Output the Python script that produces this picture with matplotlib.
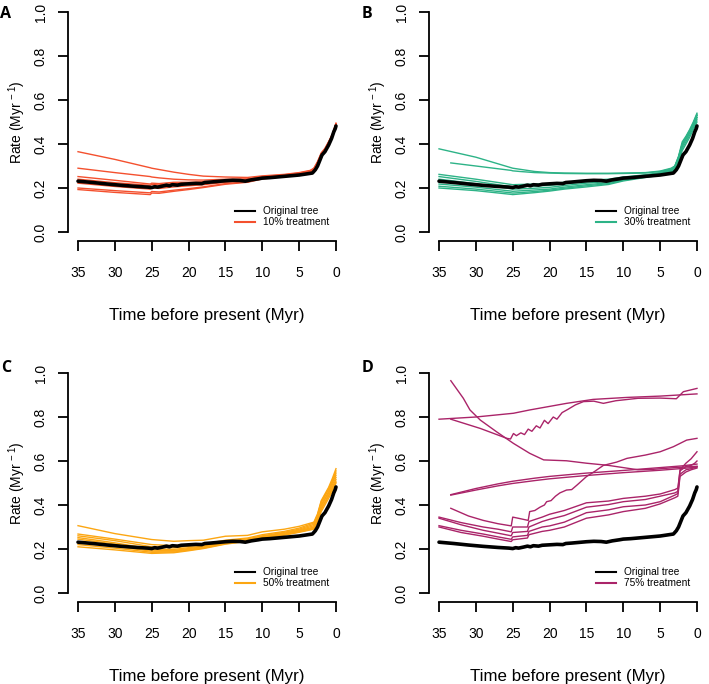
import matplotlib
matplotlib.use("Agg")
import matplotlib.pyplot as plt
from matplotlib.lines import Line2D

plt.rcParams['font.family'] = ['Liberation Sans', 'DejaVu Sans']
plt.rcParams['mathtext.fontset'] = 'custom'
plt.rcParams['mathtext.rm'] = 'Liberation Sans'
plt.rcParams['mathtext.default'] = 'regular'

# ---------------- data ----------------
orig_t = [35, 33, 31, 29, 27, 25.5, 25, 24.6, 24.2, 23.5, 23, 22.6, 22.2, 21.5, 21, 20, 19,
          18.2, 17.8, 17, 16, 15, 14, 13, 12.3, 11.5, 10.5, 10, 9, 8, 7, 6, 5, 4, 3.2, 2.8,
          2.5, 2.2, 1.9, 1.5, 1.0, 0.6, 0.3, 0.1, 0]
orig_v = [0.231, 0.225, 0.218, 0.212, 0.207, 0.204, 0.202, 0.206, 0.204, 0.209, 0.213, 0.210,
          0.215, 0.213, 0.217, 0.219, 0.221, 0.220, 0.225, 0.227, 0.230, 0.233, 0.235, 0.234,
          0.231, 0.237, 0.242, 0.245, 0.247, 0.250, 0.253, 0.256, 0.259, 0.264, 0.268, 0.283,
          0.300, 0.325, 0.350, 0.365, 0.395, 0.425, 0.455, 0.470, 0.482]

# Panel A: 10% treatment
tA = [35, 30, 25.2, 25, 24, 22, 20, 18, 15, 12, 10, 7, 5, 3.5, 3, 2.5, 2, 1.5, 1, 0.5, 0]
a1 = [0.365, 0.330, 0.292, 0.290, 0.284, 0.272, 0.262, 0.254, 0.250, 0.248, 0.255, 0.262, 0.270, 0.280, 0.290, 0.320, 0.360, 0.380, 0.410, 0.440, 0.490]
a2 = [0.290, 0.270, 0.252, 0.250, 0.246, 0.240, 0.237, 0.236, 0.240, 0.242, 0.252, 0.260, 0.268, 0.278, 0.288, 0.318, 0.355, 0.375, 0.405, 0.440, 0.492]
a3 = [0.252, 0.235, 0.218, 0.222, 0.220, 0.226, 0.226, 0.228, 0.236, 0.238, 0.250, 0.258, 0.266, 0.276, 0.285, 0.315, 0.355, 0.378, 0.410, 0.445, 0.495]
a4 = [0.240, 0.224, 0.212, 0.216, 0.214, 0.220, 0.222, 0.226, 0.235, 0.237, 0.249, 0.257, 0.265, 0.275, 0.284, 0.313, 0.352, 0.375, 0.405, 0.440, 0.490]
a5 = [0.222, 0.207, 0.195, 0.200, 0.198, 0.205, 0.210, 0.215, 0.226, 0.232, 0.246, 0.255, 0.264, 0.274, 0.283, 0.312, 0.350, 0.372, 0.402, 0.438, 0.488]
a6 = [0.200, 0.188, 0.178, 0.184, 0.182, 0.190, 0.197, 0.205, 0.220, 0.228, 0.243, 0.253, 0.262, 0.273, 0.282, 0.310, 0.350, 0.372, 0.402, 0.440, 0.490]
a7 = [0.193, 0.180, 0.170, 0.177, 0.176, 0.185, 0.193, 0.202, 0.217, 0.226, 0.241, 0.252, 0.262, 0.272, 0.281, 0.310, 0.348, 0.370, 0.400, 0.438, 0.490]

# Panel B: 30% treatment
tB = [35, 30, 25.2, 25, 24, 22, 20, 18, 15, 12, 10, 7, 5, 3.5, 3, 2.5, 2, 1.5, 1, 0.5, 0]
b1 = [0.378, 0.340, 0.292, 0.290, 0.285, 0.275, 0.270, 0.268, 0.267, 0.267, 0.268, 0.270, 0.277, 0.290, 0.300, 0.340, 0.400, 0.430, 0.460, 0.490, 0.530]
tB2 = [33.4, 30, 25.2, 25, 24, 22, 20, 18, 15, 12, 10, 7, 5, 3.5, 3, 2.5, 2, 1.5, 1, 0.5, 0]
b2 = [0.314, 0.300, 0.280, 0.278, 0.275, 0.270, 0.268, 0.266, 0.265, 0.265, 0.266, 0.268, 0.275, 0.287, 0.297, 0.335, 0.395, 0.425, 0.455, 0.490, 0.520]
b3 = [0.262, 0.240, 0.216, 0.215, 0.216, 0.218, 0.220, 0.226, 0.235, 0.240, 0.250, 0.260, 0.270, 0.285, 0.300, 0.345, 0.410, 0.435, 0.465, 0.500, 0.540]
b4 = [0.252, 0.230, 0.206, 0.205, 0.206, 0.209, 0.212, 0.219, 0.228, 0.235, 0.246, 0.258, 0.268, 0.283, 0.298, 0.340, 0.400, 0.430, 0.460, 0.495, 0.535]
b5 = [0.240, 0.220, 0.196, 0.195, 0.196, 0.199, 0.203, 0.211, 0.222, 0.230, 0.242, 0.255, 0.265, 0.280, 0.294, 0.335, 0.395, 0.425, 0.455, 0.490, 0.530]
b6 = [0.218, 0.204, 0.186, 0.185, 0.187, 0.191, 0.195, 0.204, 0.215, 0.224, 0.238, 0.252, 0.262, 0.278, 0.290, 0.330, 0.390, 0.420, 0.450, 0.485, 0.520]
b7 = [0.208, 0.195, 0.178, 0.177, 0.179, 0.184, 0.190, 0.199, 0.210, 0.220, 0.235, 0.250, 0.260, 0.275, 0.288, 0.325, 0.380, 0.410, 0.440, 0.475, 0.510]
b8 = [0.200, 0.188, 0.171, 0.170, 0.173, 0.179, 0.186, 0.195, 0.205, 0.216, 0.232, 0.248, 0.258, 0.272, 0.285, 0.320, 0.370, 0.400, 0.430, 0.465, 0.500]

# Panel C: 50% treatment
tC = [35, 30, 25, 22, 20, 18, 15, 12, 10, 7, 5, 3, 2.5, 2, 1.5, 1, 0.5, 0]
c1 = [0.306, 0.270, 0.243, 0.235, 0.238, 0.240, 0.258, 0.262, 0.278, 0.290, 0.303, 0.322, 0.360, 0.420, 0.450, 0.480, 0.520, 0.565]
c2 = [0.268, 0.245, 0.220, 0.215, 0.218, 0.222, 0.240, 0.250, 0.265, 0.280, 0.295, 0.318, 0.355, 0.415, 0.445, 0.475, 0.510, 0.555]
c3 = [0.260, 0.238, 0.210, 0.205, 0.212, 0.218, 0.236, 0.246, 0.260, 0.276, 0.290, 0.312, 0.350, 0.410, 0.440, 0.470, 0.505, 0.545]
c4 = [0.252, 0.228, 0.200, 0.198, 0.206, 0.213, 0.232, 0.242, 0.257, 0.272, 0.286, 0.306, 0.345, 0.400, 0.430, 0.460, 0.500, 0.535]
c5 = [0.245, 0.222, 0.195, 0.193, 0.202, 0.210, 0.228, 0.240, 0.255, 0.270, 0.283, 0.300, 0.340, 0.395, 0.425, 0.455, 0.490, 0.525]
c6 = [0.232, 0.212, 0.190, 0.190, 0.198, 0.207, 0.226, 0.238, 0.253, 0.267, 0.280, 0.296, 0.335, 0.385, 0.415, 0.445, 0.480, 0.515]
c7 = [0.220, 0.204, 0.185, 0.186, 0.195, 0.204, 0.224, 0.236, 0.251, 0.265, 0.278, 0.292, 0.330, 0.380, 0.410, 0.440, 0.470, 0.505]
c8 = [0.210, 0.196, 0.180, 0.183, 0.192, 0.202, 0.222, 0.235, 0.250, 0.263, 0.276, 0.290, 0.325, 0.370, 0.400, 0.430, 0.460, 0.500]

# Panel D: 75% treatment
d1_t = [33.4, 31.7, 30.8, 29.4, 27.2, 24.9, 22.7, 20.8, 17.7, 15, 12, 10, 8, 6, 3, 0]
d1_v = [0.965, 0.885, 0.832, 0.786, 0.733, 0.680, 0.635, 0.605, 0.601, 0.590, 0.580, 0.570, 0.560, 0.562, 0.570, 0.576]
d2_t = [35, 30, 24.9, 22.7, 17.7, 14.1, 9.5, 5, 0]
d2_v = [0.790, 0.800, 0.817, 0.832, 0.862, 0.880, 0.889, 0.895, 0.905]
d3_t = [33.4, 29.4, 25.8, 25.3, 24.9, 24.5, 23.9, 23.4, 22.9, 22.4, 21.8, 21.3, 20.7, 20.2, 19.5,
        19.0, 18.3, 17.5, 16.5, 15.4, 14, 12.7, 11, 8, 5, 2.8, 1.85, 0]
d3_v = [0.790, 0.748, 0.703, 0.700, 0.725, 0.715, 0.728, 0.720, 0.745, 0.735, 0.760, 0.750, 0.785,
        0.770, 0.800, 0.790, 0.820, 0.835, 0.855, 0.870, 0.872, 0.862, 0.874, 0.885, 0.886, 0.883, 0.915, 0.930]
d4_t = [33.4, 30, 27, 25, 22, 20, 17.7, 15, 10, 5, 2, 0]
d4a_v = [0.447, 0.475, 0.496, 0.508, 0.522, 0.530, 0.537, 0.545, 0.557, 0.570, 0.578, 0.586]
d4b_v = [0.445, 0.468, 0.487, 0.498, 0.511, 0.519, 0.526, 0.534, 0.547, 0.558, 0.566, 0.572]
d5_t = [33.4, 31, 29, 27, 25.2, 25.0, 24, 22.9, 22.7, 22, 21.3, 20.7, 20.4, 19.8, 19.2, 18.6,
        17.7, 17, 16.3, 15, 14, 12.7, 10.9, 9.5, 7, 5, 3.2, 1.4, 0]
d5_v = [0.385, 0.350, 0.330, 0.315, 0.305, 0.345, 0.338, 0.330, 0.370, 0.375, 0.390, 0.400, 0.415,
        0.420, 0.440, 0.455, 0.468, 0.470, 0.490, 0.529, 0.550, 0.580, 0.595, 0.612, 0.627, 0.642,
        0.665, 0.695, 0.703]
dl_t = [35, 32, 29, 27, 25.2, 25, 23, 22.8, 21, 20, 18, 15, 12, 10, 7, 5, 3, 2.6, 2.3, 1.5, 0.8, 0.3, 0]
d6_v = [0.345, 0.320, 0.300, 0.290, 0.278, 0.300, 0.300, 0.325, 0.345, 0.358, 0.375, 0.410, 0.418, 0.430, 0.440, 0.450, 0.470, 0.477, 0.555, 0.575, 0.580, 0.590, 0.600]
d7_v = [0.340, 0.310, 0.285, 0.272, 0.260, 0.275, 0.280, 0.300, 0.325, 0.335, 0.352, 0.390, 0.402, 0.415, 0.425, 0.440, 0.455, 0.462, 0.560, 0.590, 0.610, 0.630, 0.642]
d8_v = [0.306, 0.285, 0.268, 0.255, 0.244, 0.255, 0.262, 0.280, 0.300, 0.305, 0.322, 0.365, 0.378, 0.392, 0.400, 0.415, 0.445, 0.452, 0.540, 0.560, 0.565, 0.570, 0.575]
d9_v = [0.300, 0.275, 0.258, 0.245, 0.234, 0.242, 0.250, 0.265, 0.280, 0.285, 0.300, 0.340, 0.355, 0.370, 0.385, 0.405, 0.433, 0.440, 0.530, 0.550, 0.560, 0.565, 0.568]

x_ticks = [35, 30, 25, 20, 15, 10, 5, 0]
y_ticks = [0.0, 0.2, 0.4, 0.6, 0.8, 1.0]
y_ticklabels = ['0.0', '0.2', '0.4', '0.6', '0.8', '1.0']

panels = [
    dict(letter='A', label='10% treatment', color='#F4502E',
         lines=[(tA, a1), (tA, a2), (tA, a3), (tA, a4), (tA, a5), (tA, a6), (tA, a7)]),
    dict(letter='B', label='30% treatment', color='#2DB387',
         lines=[(tB, b1), (tB2, b2), (tB, b3), (tB, b4), (tB, b5), (tB, b6), (tB, b7), (tB, b8)]),
    dict(letter='C', label='50% treatment', color='#FCA612',
         lines=[(tC, c1), (tC, c2), (tC, c3), (tC, c4), (tC, c5), (tC, c6), (tC, c7), (tC, c8)]),
    dict(letter='D', label='75% treatment', color='#AA2469',
         lines=[(d1_t, d1_v), (d2_t, d2_v), (d3_t, d3_v), (d4_t, d4a_v), (d4_t, d4b_v),
                (d5_t, d5_v), (dl_t, d6_v), (dl_t, d7_v), (dl_t, d8_v), (dl_t, d9_v)]),
]

# ---------------- layout ----------------
W, H = 709, 684
fig = plt.figure(figsize=(W / 100, H / 100), dpi=100)

boxes = [  # left, right, top, bottom in pixels
    (67.7, 346.3, 3.2, 240.8),
    (428.7, 707.3, 3.2, 240.8),
    (67.7, 346.3, 364.2, 601.8),
    (428.7, 707.3, 364.2, 601.8),
]
letter_pos = [(0.5, 14.5), (361.5, 14.5), (1.0, 368.0), (361.5, 368.0)]

for p, (l, r, t, b), (lx, ly) in zip(panels, boxes, letter_pos):
    ax = fig.add_axes([l / W, 1 - b / H, (r - l) / W, (b - t) / H])
    for xs, ys in p['lines']:
        ax.plot(xs, ys, color=p['color'], lw=1.0, zorder=2)
    ax.plot(orig_t, orig_v, color='black', lw=2.6, zorder=3, solid_capstyle='round')

    ax.set_xlim(36.4, -1.4)
    ax.set_ylim(-0.04, 1.04)
    for s in ('top', 'right'):
        ax.spines[s].set_visible(False)
    ax.spines['left'].set_bounds(0, 1)
    ax.spines['bottom'].set_bounds(0, 35)
    for s in ('left', 'bottom'):
        ax.spines[s].set_linewidth(1.3)
    ax.set_xticks(x_ticks)
    ax.set_xticklabels([str(v) for v in x_ticks])
    ax.set_yticks(y_ticks)
    ax.set_yticklabels(y_ticklabels, rotation=90, va='center')
    ax.tick_params(axis='both', length=7.2, width=1.3, direction='out', labelsize=10, colors='black')
    ax.tick_params(axis='x', pad=11)
    ax.tick_params(axis='y', pad=7.2)

    ax.set_xlabel('Time before present (Myr)', fontsize=12.2, va='center')
    ax.xaxis.set_label_coords(0.5, -0.315)
    ax.set_ylabel('Rate (Myr$^{\\,-1}$)', fontsize=10, va='center')
    ax.yaxis.set_label_coords(-0.182, 0.5)

    handles = [Line2D([], [], color='black', lw=1.5), Line2D([], [], color=p['color'], lw=1.5)]
    ax.legend(handles, ['Original tree', p['label']], loc='upper left',
              bbox_to_anchor=(0.6005, 0.145), frameon=False, fontsize=7.3,
              handlelength=2.0, handletextpad=0.8, borderpad=0, borderaxespad=0,
              labelspacing=0.1)

    fig.text(lx / W, 1 - ly / H, p['letter'], ha='left', va='center', fontsize=11.5,
             fontweight='bold', family=['Open Sans', 'DejaVu Sans'])

fig.savefig('out.png', dpi=100)
